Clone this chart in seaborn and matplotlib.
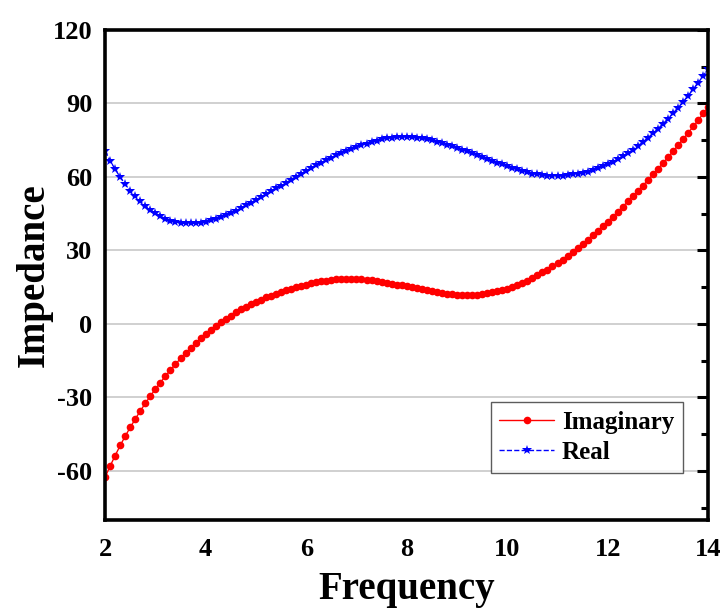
import numpy as np
import pandas as pd
import seaborn as sns
import matplotlib
matplotlib.use("Agg")
import matplotlib.pyplot as plt
from matplotlib.ticker import MultipleLocator

frequency = [round(2.0 + 0.1 * i, 1) for i in range(121)]

imaginary = [
    -62.5, -58.0, -53.7, -49.6, -45.8, -42.2, -38.8, -35.5, -32.4, -29.4,
    -26.6, -23.9, -21.3, -18.8, -16.4, -14.1, -11.9, -9.8, -7.8, -5.9,
    -4.1, -2.4, -0.8, 0.7, 2.1, 3.4, 4.7, 5.9, 7.0, 8.0,
    9.0, 9.9, 10.8, 11.6, 12.4, 13.1, 13.8, 14.4, 15.0, 15.6,
    16.1, 16.6, 17.0, 17.4, 17.7, 18.0, 18.2, 18.3, 18.4, 18.4,
    18.3, 18.2, 18.0, 17.8, 17.5, 17.2, 16.9, 16.5, 16.1, 15.7,
    15.3, 14.9, 14.5, 14.1, 13.7, 13.3, 13.0, 12.7, 12.4, 12.2,
    12.0, 11.9, 11.9, 11.9, 12.0, 12.2, 12.5, 12.9, 13.3, 13.8,
    14.4, 15.1, 15.9, 16.8, 17.7, 18.7, 19.8, 21.0, 22.2, 23.5,
    24.9, 26.3, 27.8, 29.4, 31.0, 32.7, 34.4, 36.2, 38.0, 39.9,
    41.8, 43.8, 45.8, 47.9, 50.0, 52.1, 54.3, 56.5, 58.7, 61.0,
    63.3, 65.7, 68.1, 70.5, 73.0, 75.5, 78.0, 80.6, 83.2, 85.9,
    88.6,
]

real = [
    70.5, 66.6, 63.1, 59.9, 57.0, 54.4, 52.1, 50.0, 48.2, 46.6,
    45.2, 44.0, 43.0, 42.2, 41.6, 41.2, 41.0, 41.0, 41.1, 41.4,
    41.8, 42.3, 42.9, 43.6, 44.4, 45.3, 46.3, 47.3, 48.4, 49.5,
    50.6, 51.7, 52.9, 54.1, 55.3, 56.5, 57.7, 58.9, 60.1, 61.3,
    62.5, 63.6, 64.7, 65.8, 66.8, 67.8, 68.8, 69.7, 70.6, 71.4,
    72.2, 72.9, 73.6, 74.2, 74.8, 75.3, 75.7, 76.0, 76.2, 76.3,
    76.3, 76.2, 76.0, 75.7, 75.3, 74.9, 74.4, 73.8, 73.2, 72.6,
    71.9, 71.2, 70.5, 69.7, 69.0, 68.2, 67.4, 66.6, 65.8, 65.1,
    64.4, 63.7, 63.1, 62.5, 61.9, 61.4, 61.0, 60.7, 60.5, 60.4,
    60.4, 60.5, 60.7, 61.0, 61.4, 61.7, 62.2, 62.8, 63.5, 64.3,
    65.2, 66.2, 67.3, 68.5, 69.8, 71.2, 72.7, 74.3, 76.0, 77.8,
    79.7, 81.7, 83.8, 86.0, 88.3, 90.7, 93.2, 95.8, 98.5, 101.3,
    104.2,
]

x_ticks = [2, 4, 6, 8, 10, 12, 14]
y_ticks = [-60, -30, 0, 30, 60, 90, 120]

sns.set_style("white")
plt.rcParams["font.family"] = ["Liberation Serif", "DejaVu Serif"]
plt.rcParams["font.weight"] = "bold"
plt.rcParams["text.color"] = "black"
plt.rcParams["axes.labelcolor"] = "black"
plt.rcParams["xtick.color"] = "black"
plt.rcParams["ytick.color"] = "black"

fig = plt.figure(figsize=(7.25, 6.11), dpi=100)
ax = fig.add_axes([0.145, 0.149, 0.832, 0.802])

sns.lineplot(x=frequency, y=imaginary, ax=ax, color="#ff0000", lw=1.0,
             marker="o", markersize=5.5, markeredgewidth=0, label="Imaginary")
sns.lineplot(x=frequency, y=real, ax=ax, color="#0000ff", lw=1.0,
             linestyle="--", marker="*", markersize=7, markeredgewidth=0,
             label="Real")

ax.set_xlim(2, 14)
ax.set_ylim(-80, 120)
ax.set_xticks(x_ticks)
ax.set_yticks(y_ticks)
ax.xaxis.set_minor_locator(MultipleLocator(1))
ax.yaxis.set_minor_locator(MultipleLocator(15))
ax.set_xticklabels([str(t) for t in x_ticks], fontsize=19, fontweight="bold")
ax.set_yticklabels([str(t) for t in y_ticks], fontsize=19, fontweight="bold")
ax.tick_params(which="both", direction="in", top=False, right=True,
               width=2.2, color="black", labelcolor="black")
ax.tick_params(which="major", length=8, pad=9)
ax.tick_params(axis="x", which="major", pad=13)
ax.tick_params(which="minor", length=5)
ax.grid(axis="y", which="major", color="#c8c8c8", lw=1.2)
ax.set_axisbelow(True)
for s in ax.spines.values():
    s.set_color("black")
    s.set_linewidth(2.6)

ax.set_xlabel("Frequency", fontsize=28, fontweight="bold", labelpad=7,
              color="black")
ax.set_ylabel("Impedance", fontsize=28, fontweight="bold", labelpad=0,
              color="black")

leg = ax.legend(loc="lower right", bbox_to_anchor=(0.958, 0.096),
                frameon=True, fancybox=False, edgecolor="#333333",
                prop={"size": 18, "weight": "bold"}, handlelength=2.2,
                borderpad=0.35, labelspacing=0.3, handletextpad=0.3,
                borderaxespad=0)
leg.get_frame().set_linewidth(1.0)
for t in leg.get_texts():
    t.set_color("black")

fig.savefig("out.png", dpi=100)
